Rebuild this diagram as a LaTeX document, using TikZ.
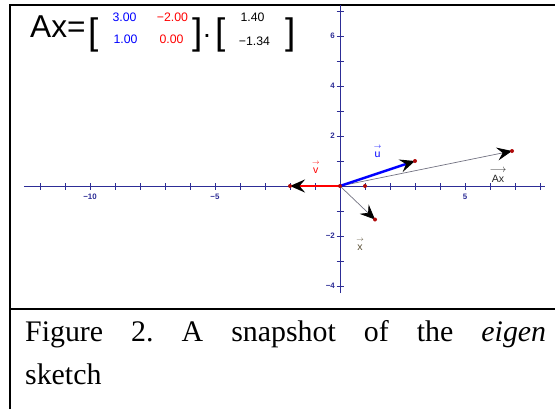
\documentclass[tikz,border=0pt]{standalone}
\usepackage{fontspec}
\setmainfont{Liberation Serif}
\setsansfont{Liberation Sans}
\usetikzlibrary{arrows.meta}
\definecolor{trucxanh}{RGB}{45,45,150}
\definecolor{vecxam}{RGB}{115,115,130}
\definecolor{chamdo}{RGB}{175,10,10}
\definecolor{nhanx}{RGB}{90,80,55}
\frenchspacing
\begin{document}
\begin{tikzpicture}[scale=1, font=\sffamily,
	>={Stealth[length=6mm,width=5.2mm,inset=2.2mm,color=black]},
	nhan/.style={inner sep=0pt, font=\sffamily\fontsize{12}{14}\selectfont},
	so/.style={inner sep=0pt, font=\sffamily\bfseries\fontsize{9}{10}\selectfont, text=trucxanh},
	phantu/.style={inner sep=0pt, font=\sffamily\fontsize{14}{16}\selectfont},
	ngoac/.style={inner sep=0pt, anchor=base west, font=\sffamily\fontsize{42}{48}\selectfont},
	cham/.style={circle, fill=chamdo, inner sep=0pt, minimum size=1.6mm}]
	\useasboundingbox (-13.6,-8.92) rectangle (8.6,7.44);
	\path
	%	Các điểm
	(0,0) coordinate (O)
	(3,1) coordinate (U)
	(-2,0) coordinate (V)
	(1.40,-1.34) coordinate (X)
	(6.88,1.40) coordinate (AX)
	(1,0) coordinate (E)
	;
	%	Khung
	\draw[line width=1.6pt] (-13.2,-8.92)--(-13.2,7.24)--(8.6,7.24);
	\draw[line width=2.2pt] (-13.2,-4.92)--(8.6,-4.92);
	%	Trục
	\draw[trucxanh, line width=0.9pt]
	(-12.64,0)--(8.2,0)
	(0,-4.28)--(0,7.24)
	;
	\foreach \i in {-12,...,-1,1,2,...,8}
	\draw[trucxanh, line width=0.7pt] (\i,-0.14)--(\i,0.14);
	\foreach \j in {-4,...,-1,1,2,...,7}
	\draw[trucxanh, line width=0.7pt] (-0.14,\j)--(0.14,\j);
	\foreach \i/\t in {-10/−10,-5/−5,5/5}
	\node[so] (sx\i) at (\i,-0.43) {\t};
	\foreach \j/\t in {6/6,4/4,2/2,-2/−2,-4/−4}
	\node[so, anchor=east] (sy\j) at (-0.2,\j) {\t};
	%	Vectơ
	\draw[vecxam, line width=0.8pt, ->] (O)--(AX);
	\draw[vecxam, line width=0.8pt, ->] (O)--(X);
	\draw[blue, line width=2.8pt, ->] (O)--(U);
	\draw[red, line width=2.8pt, ->] (O)--(V);
	\node[cham] (dO) at (O) {};
	\node[cham] (dE) at (E) {};
	\node[cham] (dU) at (U) {};
	\node[cham] (dV) at (V) {};
	\node[cham] (dX) at (X) {};
	\node[cham] (dAX) at (AX) {};
	\node[nhan, text=blue] (lu) at (1.5,1.36) {\shortstack{$\scriptstyle\rightarrow$\\[1pt]u}};
	\node[nhan, text=red] (lv) at (-0.97,0.74) {\shortstack{$\scriptstyle\rightarrow$\\[1pt]v}};
	\node[nhan, text=nhanx] (lx) at (0.8,-2.34) {\shortstack{$\scriptstyle\rightarrow$\\[1pt]x}};
	\node[nhan, text=black!85] (lax) at (6.32,0.42) {\shortstack{$\longrightarrow$\\[1pt]Ax}};
	%	Công thức
	\node[inner sep=0pt, anchor=base west, font=\sffamily\fontsize{36}{40}\selectfont] (ct) at (-12.4,5.96) {Ax=};
	\node[ngoac] (n1) at (-10.08,5.68) {[};
	\node[ngoac] (n2) at (-5.92,5.68) {]};
	\node[inner sep=0pt, anchor=base west, font=\sffamily\fontsize{32}{38}\selectfont] (dot) at (-5.48,5.96) {.};
	\node[ngoac] (n3) at (-5.0,5.68) {[};
	\node[ngoac] (n4) at (-2.2,5.68) {]};
	\node[phantu, text=blue] (a11) at (-8.62,6.76) {3.00};
	\node[phantu, text=blue] (a21) at (-8.58,5.88) {1.00};
	\node[phantu, text=red] (a12) at (-6.7,6.76) {−2.00};
	\node[phantu, text=red] (a22) at (-6.74,5.88) {0.00};
	\node[phantu] (x1) at (-3.5,6.76) {1.40};
	\node[phantu] (x2) at (-3.42,5.8) {−1.34};
	%	Chú thích
	\node[inner sep=0pt, anchor=base west, font=\rmfamily\fontsize{34}{40}\selectfont] (cap1) at (-12.6,-6.2)
	{\makebox[20.84cm][s]{Figure 2. A snapshot of the \textit{eigen}}};
	\node[inner sep=0pt, anchor=base west, font=\rmfamily\fontsize{34}{40}\selectfont] (cap2) at (-12.6,-7.92) {sketch};
\end{tikzpicture}
\end{document}
